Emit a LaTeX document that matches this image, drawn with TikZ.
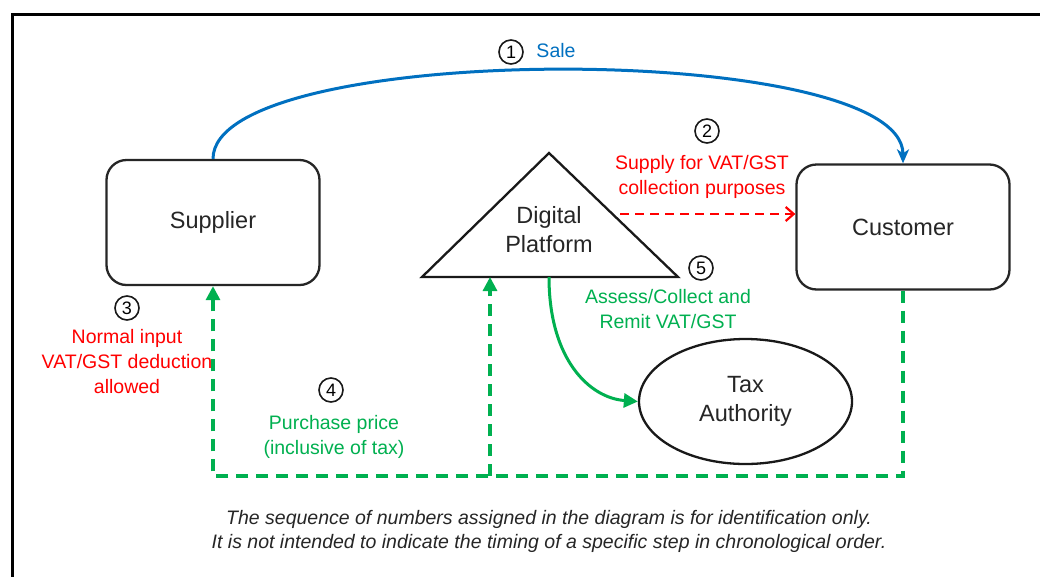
\documentclass[tikz,border=0pt]{standalone}
\usepackage{fontspec}
\setmainfont{Liberation Sans}
\usetikzlibrary{arrows.meta,shapes.geometric}
\definecolor{sblue}{RGB}{0,112,192}
\definecolor{sred}{RGB}{255,0,0}
\definecolor{sgreen}{RGB}{0,176,80}
\definecolor{ftxt}{RGB}{38,38,38}
\begin{document}
\begin{tikzpicture}[x=1pt,y=-1pt,
  box/.style={draw=black!85,line width=2.3pt,rounded corners=20pt,minimum width=213pt,minimum height=125pt,font=\fontsize{23.5}{29}\selectfont,text=black!85},
  num/.style={circle,draw=black!90,line width=1.6pt,inner sep=0pt,minimum size=24pt,font=\fontsize{18}{18}\selectfont},
  lbl/.style={align=center,font=\fontsize{19.5}{25}\selectfont},
  ntext/.style={align=center,font=\fontsize{23.5}{29}\selectfont,text=black!85},
  gdash/.style={draw=sgreen,line width=3.2pt,dash pattern=on 12pt off 8pt},
  gtip/.style={-{Triangle[length=14pt,width=14pt]}},
]
\useasboundingbox (0,0) rectangle (1040,576);
\clip (0,0) rectangle (1040,576);
\fill[white] (0,0) rectangle (1040,576);
% frame
\draw[line width=3pt] (12,590) -- (12,14) -- (1050,14);

% nodes
\node[box] (sup) at (213,222.5) {Supplier};
\node[box] (cust) at (903,227) {Customer};
\coordinate (tapex) at (549,153);
\coordinate (tbl) at (422,277);
\coordinate (tbr) at (678,277);
\draw[line width=2.3pt,draw=black!90,line join=miter] (tapex) -- (tbr) -- (tbl) -- cycle;
\node[ntext] (dp) at (549,230) {Digital\\Platform};
\node[ellipse,draw=black!90,line width=2.3pt,minimum width=213pt,minimum height=125pt,ntext] (tax) at (745.5,401.5) {Tax\\Authority};

% (1) sale
\draw[draw=sblue,line width=3pt,-{Stealth[length=14pt,width=12pt,inset=4pt]}] (sup.north) .. controls (213,40) and (903,40) .. (cust.north);
\node[num] (n1) at (511,52) {1};
\node[lbl,text=sblue] (sale) at (556,51) {Sale};

% (2) supply
\node[num] (n2) at (707,131) {2};
\node[lbl,text=sred] (supply) at (702,177) {Supply for VAT/GST\\collection purposes};
\coordinate (rs) at (620,214);
\draw[draw=sred,line width=2.2pt,dash pattern=on 9pt off 6pt,-{Straight Barb[length=8pt,width=14pt,line width=2.2pt]}] (rs) -- (cust.west |- rs);

% (3)
\node[num] (n3) at (127,308) {3};
\node[lbl,text=sred] (normal) at (127,362) {Normal input\\VAT/GST deduction\\allowed};

% (4) purchase price
\coordinate (gl) at (903,476);
\coordinate (gm) at (490,476);
\coordinate (tb) at (490,277);
\draw[gdash,gtip] (cust.south) -- (gl) -| (sup.south);
\draw[gdash,gtip] (gm) -- (tb);
\node[num] (n4) at (331,390) {4};
\node[lbl,text=sgreen] (pp) at (334,437) {Purchase price\\(inclusive of tax)};

% (5) remit
\coordinate (ts) at (549,277);
\draw[draw=sgreen,line width=3pt,gtip] (ts) .. controls (549,360) and (590,398) .. (tax.west);
\node[num] (n5) at (701,268) {5};
\node[lbl,text=sgreen] (assess) at (668,309) {Assess/Collect and\\Remit VAT/GST};

% footnote
\node[align=center,font=\fontsize{19.5}{24}\selectfont\itshape,text=ftxt] (foot) at (549,531) {The sequence of numbers assigned in the diagram is for identification only.\\It is not intended to indicate the timing of a specific step in chronological order.};
\end{tikzpicture}
\end{document}
